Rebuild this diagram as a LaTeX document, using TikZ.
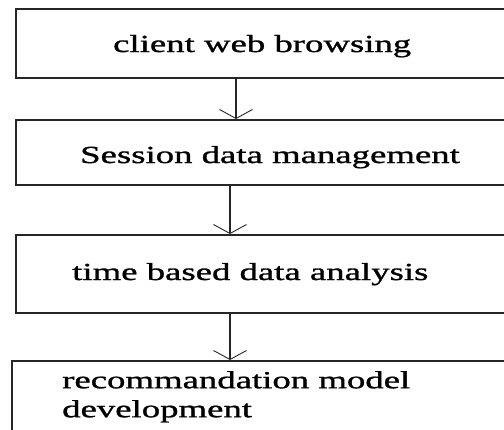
\documentclass[tikz,border=0pt]{standalone}
\usepackage{fontspec}
\setmainfont{Liberation Serif}[FakeStretch=1.5, FakeBold=1.2]
\usepackage{tikz}
\usetikzlibrary{calc, arrows.meta}

\begin{document}
\begin{tikzpicture}[x=1pt, y=-1pt,
        box/.style={draw=black!85, line width=1.5pt, anchor=north west, minimum width=510pt, inner sep=0pt},
        label/.style={anchor=base west, inner sep=0pt, font=\fontsize{24.5}{29}\selectfont},
        flow/.style={draw=black!85, line width=1.1pt, -{Straight Barb[length=9pt, width=33pt, line width=0.9pt]}}]
        % Frame
        \path[use as bounding box, clip] (0,0) rectangle (504,429);
        \fill[white] (0,0) rectangle (504,429);

        % Boxes
        \node[box, minimum height=69pt] (b1) at (15,8) {};
        \node[box, minimum height=65pt] (b2) at (15,119) {};
        \node[box, minimum height=78pt] (b3) at (15,234) {};
        \node[box, minimum height=100pt] (b4) at (11,360) {};

        % Labels
        \node[label] (t1) at (113,52) {client web browsing};
        \node[label] (t2) at (80,163) {Session data management};
        \node[label] (t3) at (72,280) {time based data analysis};
        \node[label, align=left, anchor=north west] (t4) at (62,371) {recommandation model\\development};

        % Arrows
        \draw[flow] ($(b1.south west)+(221,0)$) -- ($(b2.north west)+(221,0)$);
        \draw[flow] ($(b2.south west)+(215,0)$) -- ($(b3.north west)+(215,0)$);
        \draw[flow] ($(b3.south west)+(215,0)$) -- ($(b4.north west)+(219,0)$);
    \end{tikzpicture}
\end{document}
